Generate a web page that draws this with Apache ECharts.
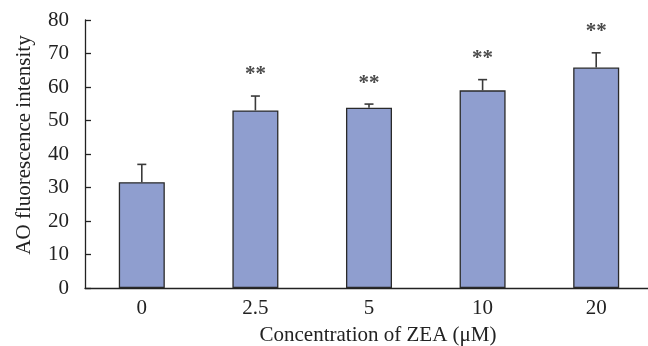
<!DOCTYPE html>
<html>
<head>
<meta charset="utf-8">
<script src="https://cdn.jsdelivr.net/npm/echarts@6/dist/echarts.min.js"></script>
<style>
  html, body { margin: 0; padding: 0; background: #fff; }
  #chart { width: 648px; height: 346px; }
</style>
</head>
<body>
<div id="chart"></div>
<script>
    // ZEA concentration groups (uM)
    var categories = ['0', '2.5', '5', '10', '20'];
    // mean AO fluorescence intensity
    var means = [31.6, 53.0, 53.8, 59.0, 65.8];
    // error (SD) above each bar
    var errors = [5.3, 4.3, 1.1, 3.2, 4.4];
    // significance markers
    var marks = ['', '**', '**', '**', '**'];

    var errData = [];
    for (var i = 0; i < categories.length; i++) {
        errData.push([i, means[i], errors[i], marks[i]]);
    }

    var serif = '"Liberation Serif", "Times New Roman", serif';

    var option = {
        animation: false,
        backgroundColor: '#fff',
        grid: {
            left: 85,
            right: -5,
            top: 20,
            bottom: 58,
            containLabel: false,
            outerBoundsMode: 'none'
        },
        xAxis: {
            type: 'category',
            data: categories,
            name: 'Concentration of ZEA (\u03bcM)',
            nameLocation: 'middle',
            nameGap: 37,
            nameTextStyle: {
                fontFamily: serif,
                fontSize: 21,
                color: '#222',
                padding: [0, 0, 0, 18]
            },
            axisLine: { lineStyle: { color: '#222', width: 1.3 } },
            axisTick: { inside: true, length: 5, lineStyle: { color: '#222', width: 1.3 } },
            axisLabel: {
                margin: 10,
                fontFamily: serif,
                fontSize: 21,
                color: '#222'
            }
        },
        yAxis: {
            type: 'value',
            min: 0,
            max: 80,
            interval: 10,
            name: 'AO fluorescence intensity',
            nameLocation: 'middle',
            nameGap: 50,
            nameTextStyle: {
                fontFamily: serif,
                fontSize: 21,
                color: '#222',
                padding: [0, 0, 0, 18]
            },
            axisLine: { show: true, lineStyle: { color: '#222', width: 1.3 } },
            axisTick: { show: true, inside: true, length: 6, lineStyle: { color: '#222', width: 1.3 } },
            splitLine: { show: false },
            axisLabel: {
                margin: 16,
                fontFamily: serif,
                fontSize: 21,
                color: '#222'
            }
        },
        series: [
            {
                name: 'mean',
                type: 'bar',
                data: means,
                barWidth: '40.5%',
                itemStyle: {
                    color: '#8f9ecf',
                    borderColor: '#2a2a2a',
                    borderWidth: 1.3
                }
            },
            {
                name: 'error',
                type: 'custom',
                data: errData,
                z: 3,
                renderItem: function(params, api) {
                    var idx = api.value(0);
                    var top = api.coord([idx, api.value(1) + api.value(2)]);
                    var base = api.coord([idx, api.value(1)]);
                    var half = 4.5;
                    var style = { stroke: '#3a3a3a', lineWidth: 1.6 };
                    var children = [
                        { type: 'line', shape: { x1: top[0], y1: base[1], x2: top[0], y2: top[1] }, style: style },
                        { type: 'line', shape: { x1: top[0] - half, y1: top[1], x2: top[0] + half, y2: top[1] }, style: style }
                    ];
                    var mk = marks[params.dataIndex];
                    if (mk) {
                        children.push({
                            type: 'text',
                            style: {
                                text: mk,
                                x: top[0],
                                y: top[1] - 21,
                                align: 'center',
                                verticalAlign: 'middle',
                                font: 'bold 21px ' + serif,
                                fill: '#4a4a4a'
                            }
                        });
                    }
                    return { type: 'group', children: children };
                }
            }
        ]
    };

    var myChart = echarts.init(document.getElementById('chart'));
    myChart.setOption(option);
</script>
</body>
</html>
